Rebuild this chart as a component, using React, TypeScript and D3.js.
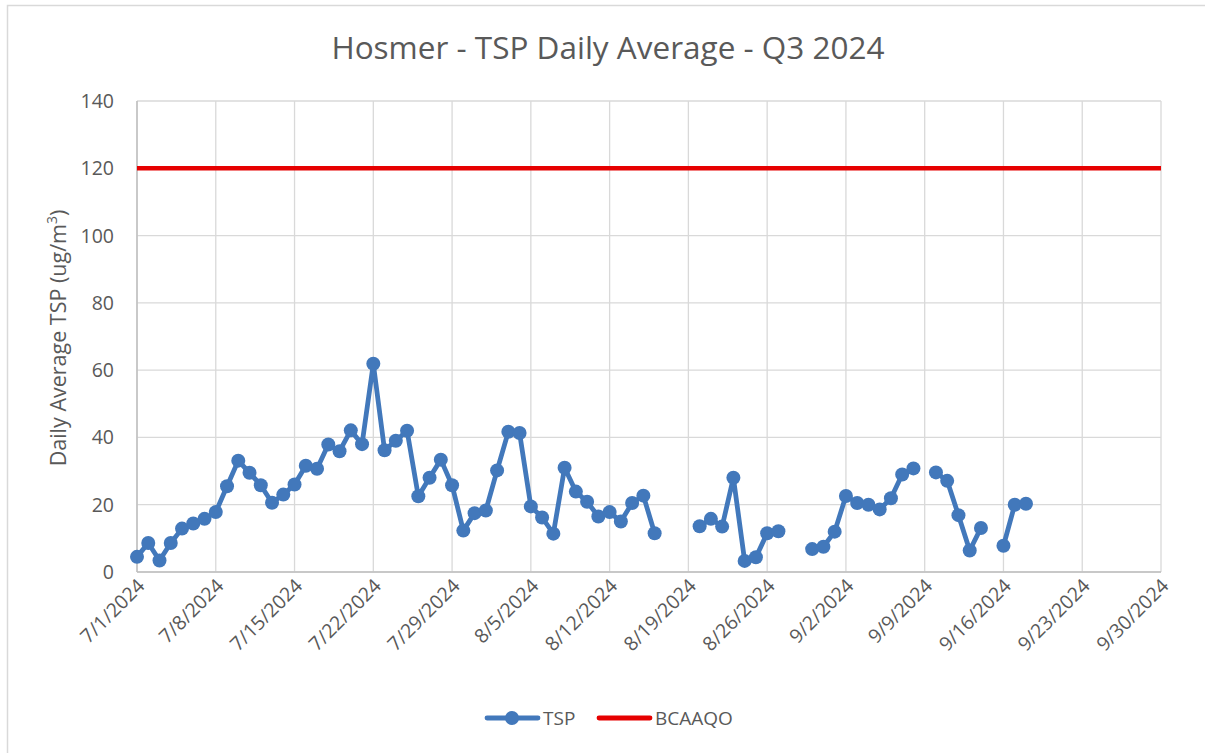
import * as d3 from 'd3'

// daily TSP readings, null = no data that day
const dates = [
  '7/1/2024', '7/2/2024', '7/3/2024', '7/4/2024', '7/5/2024', '7/6/2024', '7/7/2024',
  '7/8/2024', '7/9/2024', '7/10/2024', '7/11/2024', '7/12/2024', '7/13/2024', '7/14/2024',
  '7/15/2024', '7/16/2024', '7/17/2024', '7/18/2024', '7/19/2024', '7/20/2024', '7/21/2024',
  '7/22/2024', '7/23/2024', '7/24/2024', '7/25/2024', '7/26/2024', '7/27/2024', '7/28/2024',
  '7/29/2024', '7/30/2024', '7/31/2024', '8/1/2024', '8/2/2024', '8/3/2024', '8/4/2024',
  '8/5/2024', '8/6/2024', '8/7/2024', '8/8/2024', '8/9/2024', '8/10/2024', '8/11/2024',
  '8/12/2024', '8/13/2024', '8/14/2024', '8/15/2024', '8/16/2024', '8/17/2024', '8/18/2024',
  '8/19/2024', '8/20/2024', '8/21/2024', '8/22/2024', '8/23/2024', '8/24/2024', '8/25/2024',
  '8/26/2024', '8/27/2024', '8/28/2024', '8/29/2024', '8/30/2024', '8/31/2024', '9/1/2024',
  '9/2/2024', '9/3/2024', '9/4/2024', '9/5/2024', '9/6/2024', '9/7/2024', '9/8/2024',
  '9/9/2024', '9/10/2024', '9/11/2024', '9/12/2024', '9/13/2024', '9/14/2024', '9/15/2024',
  '9/16/2024', '9/17/2024', '9/18/2024',
]
const tsp = [
  4.5, 8.6, 3.4, 8.6, 12.9, 14.4, 15.8,
  17.8, 25.5, 33.1, 29.5, 25.8, 20.6, 23.0,
  26.0, 31.6, 30.7, 37.9, 35.9, 42.1, 38.0,
  61.9, 36.2, 39.0, 42.0, 22.5, 28.0, 33.4,
  25.8, 12.3, 17.5, 18.3, 30.2, 41.7, 41.3,
  19.5, 16.2, 11.4, 31.0, 23.9, 20.9, 16.5,
  17.8, 15.0, 20.5, 22.7, 11.5, null, null,
  null, 13.6, 15.8, 13.5, 28.0, 3.3, 4.4,
  11.5, 12.1, null, null, 6.8, 7.5, 12.0,
  22.6, 20.5, 20.0, 18.6, 21.9, 29.0, 30.8,
  null, 29.6, 27.1, 16.9, 6.4, 13.1, null,
  7.8, 20.0, 20.3,
]

const bcaaqoDates = ['7/1/2024', '9/30/2024']
const bcaaqo = [120, 120]

const xTickLabels = [
  '7/1/2024', '7/8/2024', '7/15/2024', '7/22/2024', '7/29/2024', '8/5/2024', '8/12/2024',
  '8/19/2024', '8/26/2024', '9/2/2024', '9/9/2024', '9/16/2024', '9/23/2024', '9/30/2024',
]
const yTicks = [0, 20, 40, 60, 80, 100, 120, 140]

const parse = d3.timeParse('%m/%d/%Y')
const font = '"Open Sans", sans-serif'
const textColor = '#595959'
const blue = '#4278bb'
const red = '#e60000'

const App = () => {
  const W = 1205
  const H = 753
  const left = 137
  const right = 1161
  const top = 101
  const bottom = 572

  const x = d3.scaleTime()
    .domain([parse('7/1/2024') as Date, parse('9/30/2024') as Date])
    .range([left, right])
  const y = d3.scaleLinear().domain([0, 140]).range([bottom, top])

  const points = dates.map((d, i) => ({ date: parse(d) as Date, v: tsp[i] }))
  const line = d3.line<{ date: Date; v: number | null }>()
    .defined(d => d.v != null)
    .x(d => x(d.date))
    .y(d => y(d.v as number))

  const redPts = bcaaqoDates.map((d, i) => ({ date: parse(d) as Date, v: bcaaqo[i] }))

  return (
    <svg width={W} height={H} style={{ position: 'absolute', left: 0, top: 0, background: '#fff' }}>
      <rect x={7.5} y={5.5} width={1300} height={900} fill="#fff" stroke="#d9d9d9" strokeWidth={1.5} />

      <text x={608} y={59} textAnchor="middle" fontFamily={font} fontSize={31.5} fill={textColor}>
        Hosmer - TSP Daily Average - Q3 2024
      </text>

      {/* gridlines */}
      {yTicks.map(t => (
        <line key={'gy' + t} x1={left} x2={right} y1={y(t)} y2={y(t)} stroke="#d9d9d9" strokeWidth={1.3} />
      ))}
      {xTickLabels.map(t => (
        <line key={'gx' + t} x1={x(parse(t) as Date)} x2={x(parse(t) as Date)} y1={top} y2={bottom}
          stroke="#d9d9d9" strokeWidth={1.3} />
      ))}
      <line x1={left} x2={left} y1={top} y2={bottom} stroke="#bfbfbf" strokeWidth={1.5} />
      <line x1={left} x2={right} y1={bottom} y2={bottom} stroke="#bfbfbf" strokeWidth={1.5} />

      {/* y ticks */}
      {yTicks.map(t => (
        <text key={'ty' + t} x={114} y={y(t) + 7} textAnchor="end" fontFamily={font} fontSize={19.5} fill={textColor}>
          {t}
        </text>
      ))}
      {/* x ticks */}
      {xTickLabels.map(t => {
        const px = x(parse(t) as Date) + 9
        const py = bottom + 15
        return (
          <text key={'tx' + t} transform={`translate(${px},${py}) rotate(-45)`} textAnchor="end"
            fontFamily={font} fontSize={19.5} fill={textColor}>
            {t}
          </text>
        )
      })}

      <text transform={`translate(66,338) rotate(-90)`} textAnchor="middle" fontFamily={font} fontSize={21.5} fill={textColor}>
        Daily Average TSP (ug/m<tspan baselineShift="super" fontSize={14}>3</tspan>)
      </text>

      {/* BCAAQO */}
      <path d={d3.line<{ date: Date; v: number }>().x(d => x(d.date)).y(d => y(d.v))(redPts) ?? ''}
        fill="none" stroke={red} strokeWidth={4.5} />

      {/* TSP */}
      <path d={line(points) ?? ''} fill="none" stroke={blue} strokeWidth={4.8} strokeLinejoin="round" />
      {points.filter(p => p.v != null).map(p => (
        <circle key={p.date.toISOString()} cx={x(p.date)} cy={y(p.v as number)} r={7} fill={blue} />
      ))}

      {/* legend */}
      <line x1={487} x2={538} y1={718} y2={718} stroke={blue} strokeWidth={4.8} strokeLinecap="round" />
      <circle cx={512} cy={718} r={7} fill={blue} />
      <text x={543} y={725} fontFamily={font} fontSize={19} fill={textColor}>TSP</text>
      <line x1={599} x2={650} y1={718} y2={718} stroke={red} strokeWidth={4.8} strokeLinecap="round" />
      <text x={655} y={725} fontFamily={font} fontSize={19} fill={textColor}>BCAAQO</text>
    </svg>
  )
}

export default App
